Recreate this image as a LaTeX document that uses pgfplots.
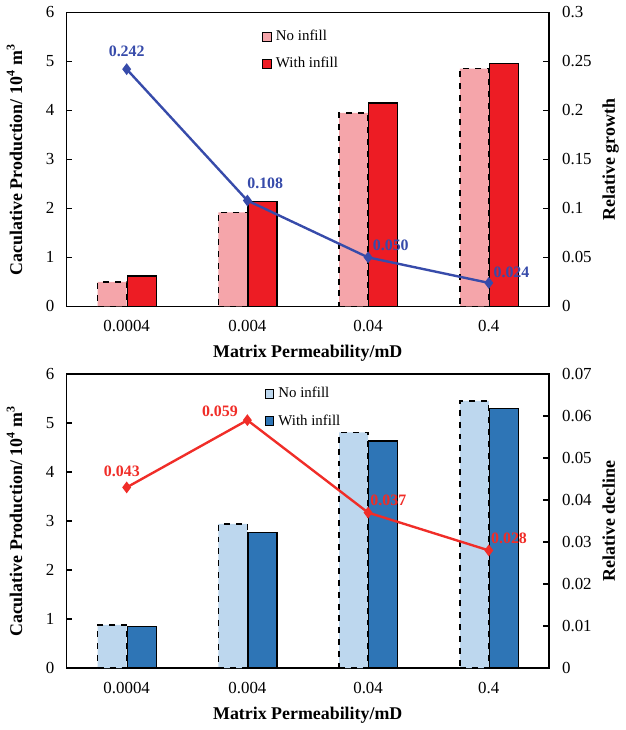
\documentclass[border=0pt]{standalone}
\usepackage{fontspec}
\setmainfont{Liberation Serif}
\usepackage{pgfplots}
\pgfplotsset{compat=1.18}
\definecolor{pinkbar}{RGB}{245,165,170}
\definecolor{redbar}{RGB}{237,28,36}
\definecolor{lbluebar}{RGB}{189,215,238}
\definecolor{bluebar}{RGB}{46,117,182}
\definecolor{lineblue}{RGB}{55,75,170}
\definecolor{linered}{RGB}{240,45,40}
\tikzset{dlabel/.style={font=\fontsize{8}{9}\selectfont\bfseries, inner sep=1pt}}
\pgfplotsset{
  common/.style={
    scale only axis, width=243pt, height=148pt,
    xmin=-0.5, xmax=3.5,
    /pgf/number format/assume math mode=true,
    tick label style={font=\fontsize{8.5}{10}\selectfont},
    label style={font=\fontsize{9}{11}\selectfont\bfseries},
    tick align=inside, major tick length=3pt,
    axis line style={line width=0.8pt},
    every tick/.style={black, line width=0.7pt},
    scaled y ticks=false,
  },
  leftax/.style={common,
    ymin=0, ymax=6, ytick={0,1,...,6},
    xtick={0,1,2,3}, xticklabels={0.0004,0.004,0.04,0.4},
    major x tick style={draw=none},
    ytick pos=left,
    xticklabel shift=3.5pt, yticklabel shift=2.5pt,
    ylabel={Caculative Production/ 10\textsuperscript{4} m\textsuperscript{3}},
    xlabel={Matrix Permeability/mD},
    ylabel style={yshift=5pt},
    xlabel style={yshift=0pt},
    legend style={draw=none, fill=none, at={(rel axis cs:0.405,0.955)}, anchor=north west,
      font=\fontsize{7.5}{9}\selectfont, row sep=3pt, inner sep=0pt},
    legend cell align=left,
    legend image code/.code={\draw[##1, line width=0.5pt, solid] (0pt,-2.2pt) rectangle (4.4pt,2.2pt);},
  },
  rightax/.style={common,
    axis y line*=right, axis x line=none,
    ymin=0, /pgf/number format/fixed,
    yticklabel shift=3pt,
    ylabel style={yshift=1.5pt},
  },
  nobar/.style={ybar, bar width=0.24, bar shift=-0.12, draw=black, dashed, line width=0.7pt, fill=#1},
  wbar/.style={ybar, bar width=0.24, bar shift=0.125, draw=black, solid, line width=0.7pt, fill=#1},
}
\begin{document}
\begin{tikzpicture}
% ---------- top chart ----------
\begin{axis}[leftax, at={(0,182pt)}]
\addplot[nobar=pinkbar] coordinates {(0,0.50) (1,1.92) (2,3.95) (3,4.85)};
\addlegendentry{No infill}
\addplot[wbar=redbar] coordinates {(0,0.62) (1,2.14) (2,4.15) (3,4.96)};
\addlegendentry{With infill}
\end{axis}
\begin{axis}[rightax, at={(0,182pt)}, ymax=0.3, ytick={0,0.05,...,0.3},
  yticklabels={0,0.05,0.1,0.15,0.2,0.25,0.3}, ylabel={Relative growth}]
\addplot[lineblue, line width=1.2pt, mark=diamond*, mark size=2pt] coordinates {(0,0.242) (1,0.108) (2,0.050) (3,0.024)};
\node[dlabel, text=lineblue, anchor=south] at (axis cs:0,0.252) {0.242};
\node[dlabel, text=lineblue, anchor=south west] at (axis cs:0.98,0.118) {0.108};
\node[dlabel, text=lineblue, anchor=south west] at (axis cs:2.02,0.054) {0.050};
\node[dlabel, text=lineblue, anchor=south west] at (axis cs:3.02,0.027) {0.024};
\end{axis}
% ---------- bottom chart ----------
\begin{axis}[leftax, at={(0,0)}, legend style={at={(rel axis cs:0.41,0.97)}}]
\addplot[nobar=lbluebar] coordinates {(0,0.88) (1,2.94) (2,4.81) (3,5.45)};
\addlegendentry{No infill}
\addplot[wbar=bluebar] coordinates {(0,0.85) (1,2.77) (2,4.63) (3,5.30)};
\addlegendentry{With infill}
\end{axis}
\begin{axis}[rightax, at={(0,0)}, ymax=0.07, ytick={0,0.01,...,0.07},
  yticklabels={0,0.01,0.02,0.03,0.04,0.05,0.06,0.07}, ylabel={Relative decline}]
\addplot[linered, line width=1.2pt, mark=diamond*, mark size=2pt] coordinates {(0,0.043) (1,0.059) (2,0.037) (3,0.028)};
\node[dlabel, text=linered, anchor=south] at (axis cs:-0.04,0.045) {0.043};
\node[dlabel, text=linered, anchor=south east] at (axis cs:0.94,0.0592) {0.059};
\node[dlabel, text=linered, anchor=south west] at (axis cs:2.0,0.038) {0.037};
\node[dlabel, text=linered, anchor=south west] at (axis cs:3.0,0.029) {0.028};
\end{axis}
\end{tikzpicture}
\end{document}
